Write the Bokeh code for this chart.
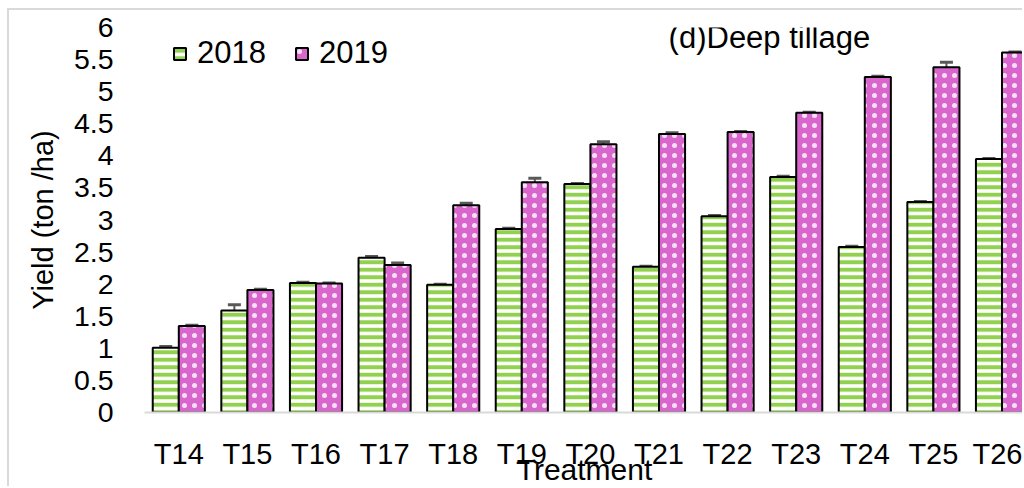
from bokeh.plotting import figure
from bokeh.models import ColumnDataSource, FixedTicker, Whisker, TeeHead, Label, Legend, LegendItem
from bokeh.embed import file_html
from bokeh.resources import INLINE

# Grain yield per treatment under deep tillage (ton/ha)
treatments = ["T14", "T15", "T16", "T17", "T18", "T19", "T20",
              "T21", "T22", "T23", "T24", "T25", "T26"]
yield_2018 = [1.01, 1.59, 2.02, 2.41, 1.99, 2.86, 3.56, 2.27, 3.06, 3.67, 2.58, 3.28, 3.95]
yield_2019 = [1.35, 1.91, 2.01, 2.30, 3.23, 3.59, 4.18, 4.34, 4.37, 4.67, 5.23, 5.38, 5.61]
err_2018 = [0.02, 0.09, 0.01, 0.02, 0.01, 0.01, 0.01, 0.01, 0.01, 0.01, 0.01, 0.01, 0.01]
err_2019 = [0.01, 0.01, 0.01, 0.03, 0.03, 0.06, 0.04, 0.02, 0.01, 0.01, 0.01, 0.08, 0.01]
y_ticks = [0, 0.5, 1, 1.5, 2, 2.5, 3, 3.5, 4, 4.5, 5, 5.5, 6]

FONT = "Liberation Sans"
GREEN = "#92D050"
PINK = "#D866CC"
BAR_W = 0.38

idx = list(range(len(treatments)))
src18 = ColumnDataSource(dict(
    x=[i - BAR_W / 2 for i in idx], top=yield_2018,
    upper=[v + e for v, e in zip(yield_2018, err_2018)],
    lower=[v - e for v, e in zip(yield_2018, err_2018)]))
src19 = ColumnDataSource(dict(
    x=[i + BAR_W / 2 for i in idx], top=yield_2019,
    upper=[v + e for v, e in zip(yield_2019, err_2019)],
    lower=[v - e for v, e in zip(yield_2019, err_2019)]))

p = figure(width=1015, height=478, output_backend="svg", toolbar_location=None,
           x_range=(-0.5, 12.328), y_range=(0, 6),
           min_border_left=135, min_border_right=0, min_border_top=17, min_border_bottom=75,
           margin=(8, 0, 0, 7),
           styles={"border-left": "2px solid #d9d9d9", "border-top": "2px solid #d9d9d9"})
p.outline_line_color = None
p.xgrid.visible = False
p.ygrid.visible = False

r18 = p.vbar(x="x", top="top", width=BAR_W, source=src18,
             fill_color="white", hatch_pattern="horizontal_line", hatch_color=GREEN,
             hatch_weight=4, hatch_scale=7.5, line_color="black", line_width=2)
r19 = p.vbar(x="x", top="top", width=BAR_W, source=src19,
             fill_color=PINK, hatch_pattern="dot", hatch_color="white", hatch_alpha=0.8,
             hatch_weight=1.2, hatch_scale=10, line_color="black", line_width=2)

for src in (src18, src19):
    p.add_layout(Whisker(base="x", upper="upper", lower="lower", source=src,
                         line_color="#595959", line_width=2,
                         upper_head=TeeHead(size=13, line_color="#595959", line_width=3),
                         lower_head=TeeHead(size=13, line_color="#595959", line_width=3)))

# axes
p.yaxis.ticker = FixedTicker(ticks=y_ticks)
p.yaxis.major_label_overrides = {t: f"{t:g}" for t in y_ticks}
p.yaxis.axis_line_color = None
p.yaxis.major_tick_line_color = None
p.yaxis.minor_tick_line_color = None
p.yaxis.major_tick_out = 0
p.yaxis.major_label_standoff = 31
p.yaxis.major_label_text_font = FONT
p.yaxis.major_label_text_font_size = "28.5px"
p.yaxis.major_label_text_color = "black"
p.yaxis.axis_label = "Yield (ton /ha)"
p.yaxis.axis_label_text_font = FONT
p.yaxis.axis_label_text_font_size = "29px"
p.yaxis.axis_label_text_font_style = "normal"
p.yaxis.axis_label_text_color = "black"
p.yaxis.axis_label_standoff = 12

p.xaxis.ticker = FixedTicker(ticks=idx)
p.xaxis.major_label_overrides = {i: t for i, t in zip(idx, treatments)}
p.xaxis.axis_line_color = "#d9d9d9"
p.xaxis.axis_line_width = 2
p.xaxis.major_tick_line_color = None
p.xaxis.minor_tick_line_color = None
p.xaxis.major_tick_out = 0
p.xaxis.major_label_standoff = 25
p.xaxis.major_label_text_font = FONT
p.xaxis.major_label_text_font_size = "29px"
p.xaxis.major_label_text_color = "black"
p.xaxis.axis_label = "Treatment"
p.xaxis.axis_label_text_font = FONT
p.xaxis.axis_label_text_font_size = "30px"
p.xaxis.axis_label_text_font_style = "normal"
p.xaxis.axis_label_text_color = "black"
p.xaxis.axis_label_standoff = -20

legend = Legend(items=[LegendItem(label="2018", renderers=[r18]),
                       LegendItem(label="2019", renderers=[r19])],
                orientation="horizontal", location=(28, 341),
                glyph_width=15, glyph_height=15, label_standoff=10, spacing=28,
                padding=0, margin=0, border_line_color=None, background_fill_alpha=0,
                label_text_font=FONT, label_text_font_size="31px", label_text_color="black")
p.add_layout(legend)

p.add_layout(Label(x=7.14, y=5.845, text="(d)Deep tillage", text_baseline="middle",
                   text_font=FONT, text_font_size="31px", text_color="black"))

open("out.html", "w").write(file_html(p, INLINE))
